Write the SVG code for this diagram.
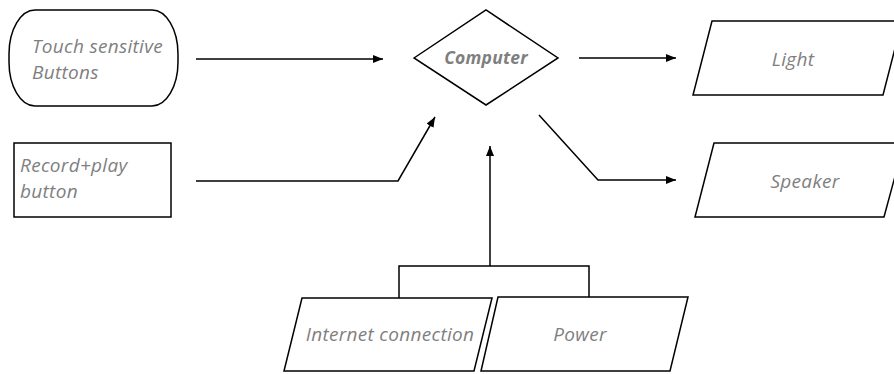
<svg xmlns="http://www.w3.org/2000/svg" width="894" height="374" viewBox="0 0 894 374">
<defs>
<marker id="ah" viewBox="0 0 10 8" refX="10" refY="4" markerWidth="10" markerHeight="8" markerUnits="userSpaceOnUse" orient="auto">
<path d="M0,0 L10,4 L0,8 z" fill="#000"/>
</marker>
</defs>
<style>
.shape{fill:#fff;stroke:#000;stroke-width:1.5}
.lbl{font-family:"Open Sans","Liberation Sans",sans-serif;font-style:italic;font-size:19px;letter-spacing:0.3px;fill:#7f7f7f}
.bold{font-weight:bold;font-size:17.5px;letter-spacing:0.2px}
.conn{fill:none;stroke:#000;stroke-width:1.5}
</style>
<rect width="894" height="374" fill="#fff"/>
<g id="touch">
<rect class="shape" x="9" y="10" width="169" height="96" rx="26" ry="44"/>
<text class="lbl" x="32" y="53">Touch sensitive</text>
<text class="lbl" x="32" y="79">Buttons</text>
</g>
<g id="record">
<rect class="shape" x="14" y="143" width="157" height="74"/>
<text class="lbl" x="20" y="172">Record+play</text>
<text class="lbl" x="20" y="198">button</text>
</g>
<g id="computer">
<polygon class="shape" points="414,58 486,10 558,58 486,105"/>
<text class="lbl bold" x="486" y="64" text-anchor="middle">Computer</text>
</g>
<g id="light">
<polygon class="shape" points="712,21 902,21 883,95 693,95"/>
<text class="lbl" x="793" y="66" text-anchor="middle">Light</text>
</g>
<g id="speaker">
<polygon class="shape" points="714,143 904,143 884,217 695,217"/>
<text class="lbl" x="805" y="188" text-anchor="middle">Speaker</text>
</g>
<g id="internet">
<polygon class="shape" points="302,298 492,298 474,371 284,371"/>
<text class="lbl" x="390" y="341" text-anchor="middle">Internet connection</text>
</g>
<g id="power">
<polygon class="shape" points="498,297 688,297 670,371 481,371"/>
<text class="lbl" x="580" y="341" text-anchor="middle">Power</text>
</g>
<g id="connectors">
<path class="conn" d="M196,59 H383" marker-end="url(#ah)"/>
<path class="conn" d="M196,181 H398 L435,117" marker-end="url(#ah)"/>
<path class="conn" d="M579,58 H676" marker-end="url(#ah)"/>
<path class="conn" d="M539,115 L598,180 H676" marker-end="url(#ah)"/>
<path class="conn" d="M399,298 V266 H589 V297"/>
<path class="conn" d="M490,266 V146" marker-end="url(#ah)"/>
</g>
</svg>
